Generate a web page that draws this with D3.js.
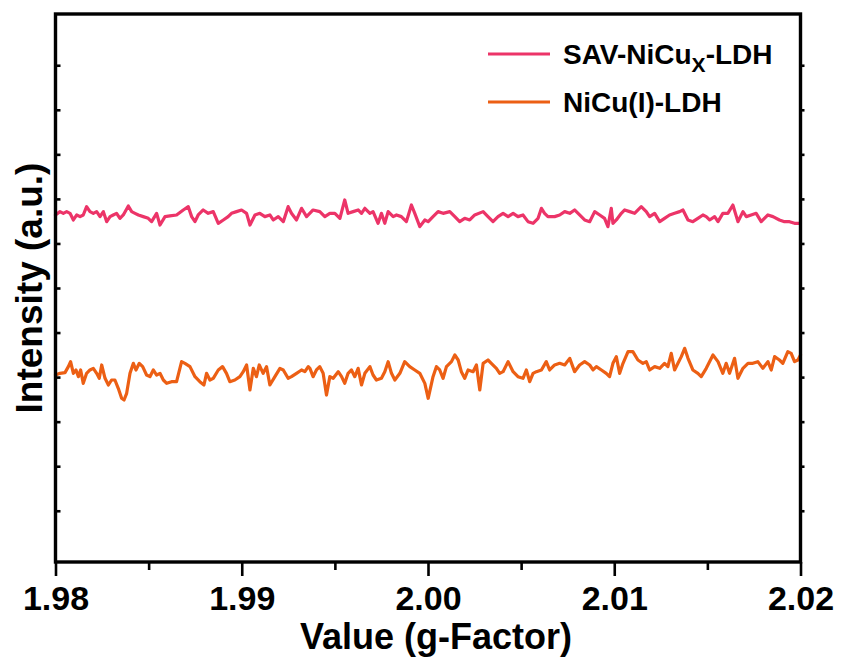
<!DOCTYPE html>
<html>
<head>
<meta charset="utf-8">
<script src="https://cdn.jsdelivr.net/npm/d3@7"></script>
<style>
  html, body { margin: 0; padding: 0; background: #fff; }
  svg { display: block; }
  text { font-family: "Liberation Sans", Arial, sans-serif; font-weight: bold; fill: #000; }
</style>
</head>
<body>
<svg id="chart" width="843" height="662"></svg>
<script>
// ---- data (g-factor, intensity in a.u.) ----
const seriesNames = ["SAV-NiCu", "NiCu(I)-LDH"];
const seriesColors = ["#EC3468", "#EC5F14"];

const savG = [1.98000,1.98024,1.98042,1.98060,1.98078,1.98096,1.98114,1.98132,1.98149,1.98167,1.98185,1.98203,1.98221,1.98239,1.98257,1.98275,1.98293,1.98310,1.98328,1.98346,1.98364,1.98391,1.98409,1.98427,1.98445,1.98471,1.98498,1.98516,1.98543,1.98561,1.98588,1.98614,1.98650,1.98686,1.98713,1.98731,1.98749,1.98766,1.98793,1.98820,1.98847,1.98874,1.98901,1.98927,1.98945,1.98972,1.98999,1.99026,1.99044,1.99071,1.99097,1.99124,1.99151,1.99169,1.99196,1.99223,1.99249,1.99267,1.99294,1.99321,
1.99348,1.99383,1.99419,1.99446,1.99473,1.99500,1.99527,1.99553,1.99571,1.99598,1.99625,1.99643,1.99661,1.99688,1.99705,1.99732,1.99750,1.99768,1.99786,1.99813,1.99831,1.99857,1.99884,1.99911,1.99929,1.99956,1.99983,2.00001,2.00027,2.00054,2.00081,2.00117,2.00144,2.00170,2.00197,2.00224,2.00251,2.00296,2.00322,2.00349,2.00376,2.00403,2.00430,2.00457,2.00483,2.00510,2.00537,2.00564,2.00591,2.00609,2.00626,2.00644,
2.00680,2.00707,2.00734,2.00761,2.00787,2.00814,2.00841,2.00868,2.00895,2.00922,2.00948,2.00966,2.00984,2.00993,2.01011,2.01038,2.01056,2.01083,2.01109,2.01145,2.01172,2.01190,2.01217,2.01244,2.01270,2.01297,2.01324,2.01351,2.01369,2.01396,2.01422,2.01449,2.01476,2.01494,2.01512,2.01539,2.01557,2.01583,2.01610,2.01637,2.01664,2.01691,2.01709,2.01735,2.01762,2.01789,2.01825,2.01852,2.01887,2.01914,2.01941,2.01968,2.02000];
const savI = [7.639,7.714,7.676,7.714,7.676,7.527,7.639,7.602,7.639,7.826,7.714,7.676,7.714,7.602,7.714,7.489,7.602,7.639,7.676,7.564,7.639,7.841,7.714,7.676,7.639,7.602,7.564,7.489,7.676,7.414,7.602,7.617,7.639,7.751,7.826,7.602,7.489,7.639,7.751,7.676,7.714,7.452,7.527,7.602,7.676,7.714,7.751,7.676,7.414,7.639,7.676,7.602,7.639,7.527,7.602,7.489,7.826,7.676,7.527,7.789,
7.602,7.751,7.714,7.602,7.676,7.676,7.564,7.976,7.676,7.714,7.751,7.676,7.789,7.676,7.714,7.452,7.676,7.452,7.714,7.602,7.639,7.602,7.489,7.863,7.676,7.377,7.527,7.489,7.602,7.714,7.676,7.714,7.602,7.489,7.564,7.527,7.639,7.714,7.602,7.489,7.602,7.676,7.602,7.676,7.602,7.639,7.489,7.452,7.564,7.789,7.676,7.602,
7.602,7.639,7.714,7.676,7.751,7.639,7.527,7.489,7.714,7.639,7.564,7.377,7.789,7.452,7.527,7.676,7.751,7.714,7.676,7.826,7.714,7.602,7.676,7.489,7.564,7.639,7.676,7.714,7.751,7.527,7.489,7.564,7.639,7.602,7.527,7.602,7.489,7.676,7.676,7.863,7.489,7.714,7.602,7.639,7.676,7.489,7.639,7.602,7.527,7.489,7.489,7.452,7.452];

const nicuG = [1.98000,1.98024,1.98051,1.98069,1.98081,1.98096,1.98110,1.98123,1.98135,1.98149,1.98167,1.98185,1.98203,1.98221,1.98235,1.98248,1.98266,1.98284,1.98301,1.98319,1.98337,1.98355,1.98368,1.98382,1.98400,1.98418,1.98432,1.98450,1.98468,1.98489,1.98507,1.98525,1.98543,1.98561,1.98579,1.98597,1.98623,1.98650,1.98677,1.98695,1.98722,1.98749,1.98775,1.98797,1.98811,1.98829,1.98847,1.98874,1.98897,1.98918,1.98936,1.98963,1.98990,1.99008,1.99026,1.99044,1.99062,1.99079,1.99094,1.99115,1.99133,1.99151,1.99178,1.99205,1.99223,1.99249,1.99267,1.99294,1.99321,1.99339,1.99357,
1.99366,1.99383,1.99401,1.99419,1.99437,1.99455,1.99473,1.99491,1.99518,1.99536,1.99553,1.99571,1.99589,1.99607,1.99625,1.99643,1.99661,1.99688,1.99705,1.99723,1.99750,1.99768,1.99786,1.99804,1.99822,1.99849,1.99875,1.99902,1.99929,1.99956,1.99983,2.00001,2.00027,2.00045,2.00063,2.00081,2.00099,2.00126,2.00144,2.00162,2.00179,2.00197,2.00215,2.00242,2.00260,2.00278,2.00296,2.00322,2.00340,2.00367,2.00385,2.00403,2.00430,2.00457,2.00483,2.00510,2.00528,2.00546,2.00564,2.00582,2.00609,2.00635,
2.00653,2.00680,2.00707,2.00734,2.00761,2.00787,2.00814,2.00841,2.00868,2.00886,2.00904,2.00931,2.00957,2.00975,2.00993,2.01011,2.01029,2.01047,2.01074,2.01100,2.01127,2.01154,2.01172,2.01190,2.01217,2.01244,2.01270,2.01288,2.01306,2.01324,2.01342,2.01360,2.01378,2.01396,2.01422,2.01449,2.01467,2.01494,2.01530,2.01557,2.01583,2.01601,2.01619,2.01646,2.01664,2.01691,2.01718,2.01744,2.01771,2.01798,2.01825,2.01843,2.01861,2.01887,2.01905,2.01932,2.01950,2.01968,2.01986,2.02000];
const nicuI = [4.047,4.085,4.100,4.235,4.347,4.085,4.160,4.010,4.160,3.860,4.085,4.160,4.197,4.085,3.973,4.272,3.973,3.823,3.935,3.935,3.748,3.524,3.486,3.636,4.085,4.309,4.160,4.309,4.235,4.047,4.010,4.160,4.047,4.085,3.935,3.860,3.898,3.898,4.347,4.309,4.235,4.010,3.898,3.823,4.085,3.935,3.973,4.160,4.235,4.085,3.898,3.935,4.010,4.122,4.272,3.711,4.197,4.010,4.272,4.085,4.235,3.823,4.010,4.197,4.160,3.973,4.010,4.085,4.160,4.122,4.235,
4.197,4.010,4.160,4.235,4.085,3.598,4.010,3.973,4.122,4.010,3.860,4.085,4.160,4.010,4.197,3.823,4.085,4.235,4.047,3.935,3.973,4.122,4.347,4.085,3.935,4.085,4.347,4.235,4.160,4.085,3.860,3.524,4.010,4.235,4.160,3.973,4.235,4.347,4.496,4.384,4.122,3.973,4.160,4.122,4.272,3.711,4.309,4.384,4.309,4.197,4.085,4.122,4.347,4.122,4.010,3.973,4.160,3.898,4.085,4.122,4.160,4.347,
4.160,4.272,4.309,4.272,4.421,4.122,4.272,4.347,4.272,4.160,4.235,4.160,4.085,4.010,4.309,4.459,4.085,4.309,4.571,4.571,4.384,4.309,4.347,4.160,4.235,4.197,4.309,4.235,4.534,4.160,4.309,4.459,4.646,4.421,4.160,4.085,4.010,4.197,4.496,4.347,4.085,4.309,4.085,4.421,3.973,4.197,4.309,4.309,4.347,4.197,4.347,4.160,4.459,4.384,4.309,4.571,4.534,4.347,4.384,4.496];

const xMajorTicks = [1.98, 1.99, 2.00, 2.01, 2.02];
const xTickLabels = ["1.98", "1.99", "2.00", "2.01", "2.02"];
const xMinorTicks = [1.985, 1.995, 2.005, 2.015];
const yTicks = [1, 2, 3, 4, 5, 6, 7, 8, 9, 10, 11];

// ---- layout ----
const svg = d3.select("#chart");
const L = 55.5, R = 800.5, T = 14, B = 562;

const x = d3.scaleLinear().domain([1.98, 2.02]).range([L, R]);
const y = d3.scaleLinear().domain([-0.15, 12.15]).range([B, T]);

const line = d3.line().x(d => x(d[0])).y(d => y(d[1]));

const series = [
  { color: seriesColors[0], pts: savG.map((g, i) => [g, savI[i]]) },
  { color: seriesColors[1], pts: nicuG.map((g, i) => [g, nicuI[i]]) }
];

svg.append("g").selectAll("path").data(series).join("path")
  .attr("d", d => line(d.pts))
  .attr("fill", "none")
  .attr("stroke", d => d.color)
  .attr("stroke-width", 3.2)
  .attr("stroke-linejoin", "round")
  .attr("stroke-linecap", "round");

// axes
const axW = 3.4;
function styleAxis(g) {
  g.select(".domain").remove();
  g.selectAll(".tick line").attr("stroke", "#000").attr("stroke-width", 2.6);
}

svg.append("g").attr("transform", `translate(0,${B})`)
  .call(d3.axisBottom(x).tickValues(xMinorTicks).tickSize(8).tickFormat(""))
  .call(styleAxis);

const xAx = svg.append("g").attr("transform", `translate(0,${B})`)
  .call(d3.axisBottom(x).tickValues(xMajorTicks).tickSize(14).tickPadding(10)
    .tickFormat((d, i) => xTickLabels[i]))
  .call(styleAxis);
xAx.selectAll("text").attr("font-size", 34).attr("font-family", "'Liberation Sans', Arial, sans-serif")
  .attr("font-weight", "bold").attr("fill", "#000");

svg.append("g").attr("transform", `translate(${L},0)`)
  .call(d3.axisLeft(y).tickValues(yTicks).tickSize(-5).tickFormat(""))
  .call(styleAxis);

svg.append("g").attr("transform", `translate(${R},0)`)
  .call(d3.axisRight(y).tickValues(yTicks).tickSize(4).tickFormat(""))
  .call(styleAxis);

// frame
svg.append("rect")
  .attr("x", L).attr("y", T).attr("width", R - L).attr("height", B - T)
  .attr("fill", "none").attr("stroke", "#000").attr("stroke-width", axW);

// axis titles
svg.append("text")
  .attr("x", (L + R) / 2 + 8).attr("y", 649)
  .attr("text-anchor", "middle").attr("font-size", 36)
  .text("Value (g-Factor)");

svg.append("text")
  .attr("transform", `translate(42,${(T + B) / 2}) rotate(-90)`)
  .attr("text-anchor", "middle").attr("font-size", 37)
  .text("Intensity (a.u.)");

// legend
const lg = svg.append("g");
const legY = [54, 102];
lg.selectAll("line").data(seriesColors).join("line")
  .attr("x1", 488).attr("x2", 550)
  .attr("y1", (d, i) => legY[i]).attr("y2", (d, i) => legY[i])
  .attr("stroke", d => d).attr("stroke-width", 3);

const t1 = lg.append("text").attr("x", 563).attr("y", legY[0] + 10).attr("font-size", 28);
t1.append("tspan").text(seriesNames[0]);
t1.append("tspan").attr("font-size", 21).attr("dy", 8).text("X");
t1.append("tspan").attr("dy", -8).text("-LDH");

lg.append("text").attr("x", 563).attr("y", legY[1] + 10).attr("font-size", 28)
  .text(seriesNames[1]);
</script>
</body>
</html>
